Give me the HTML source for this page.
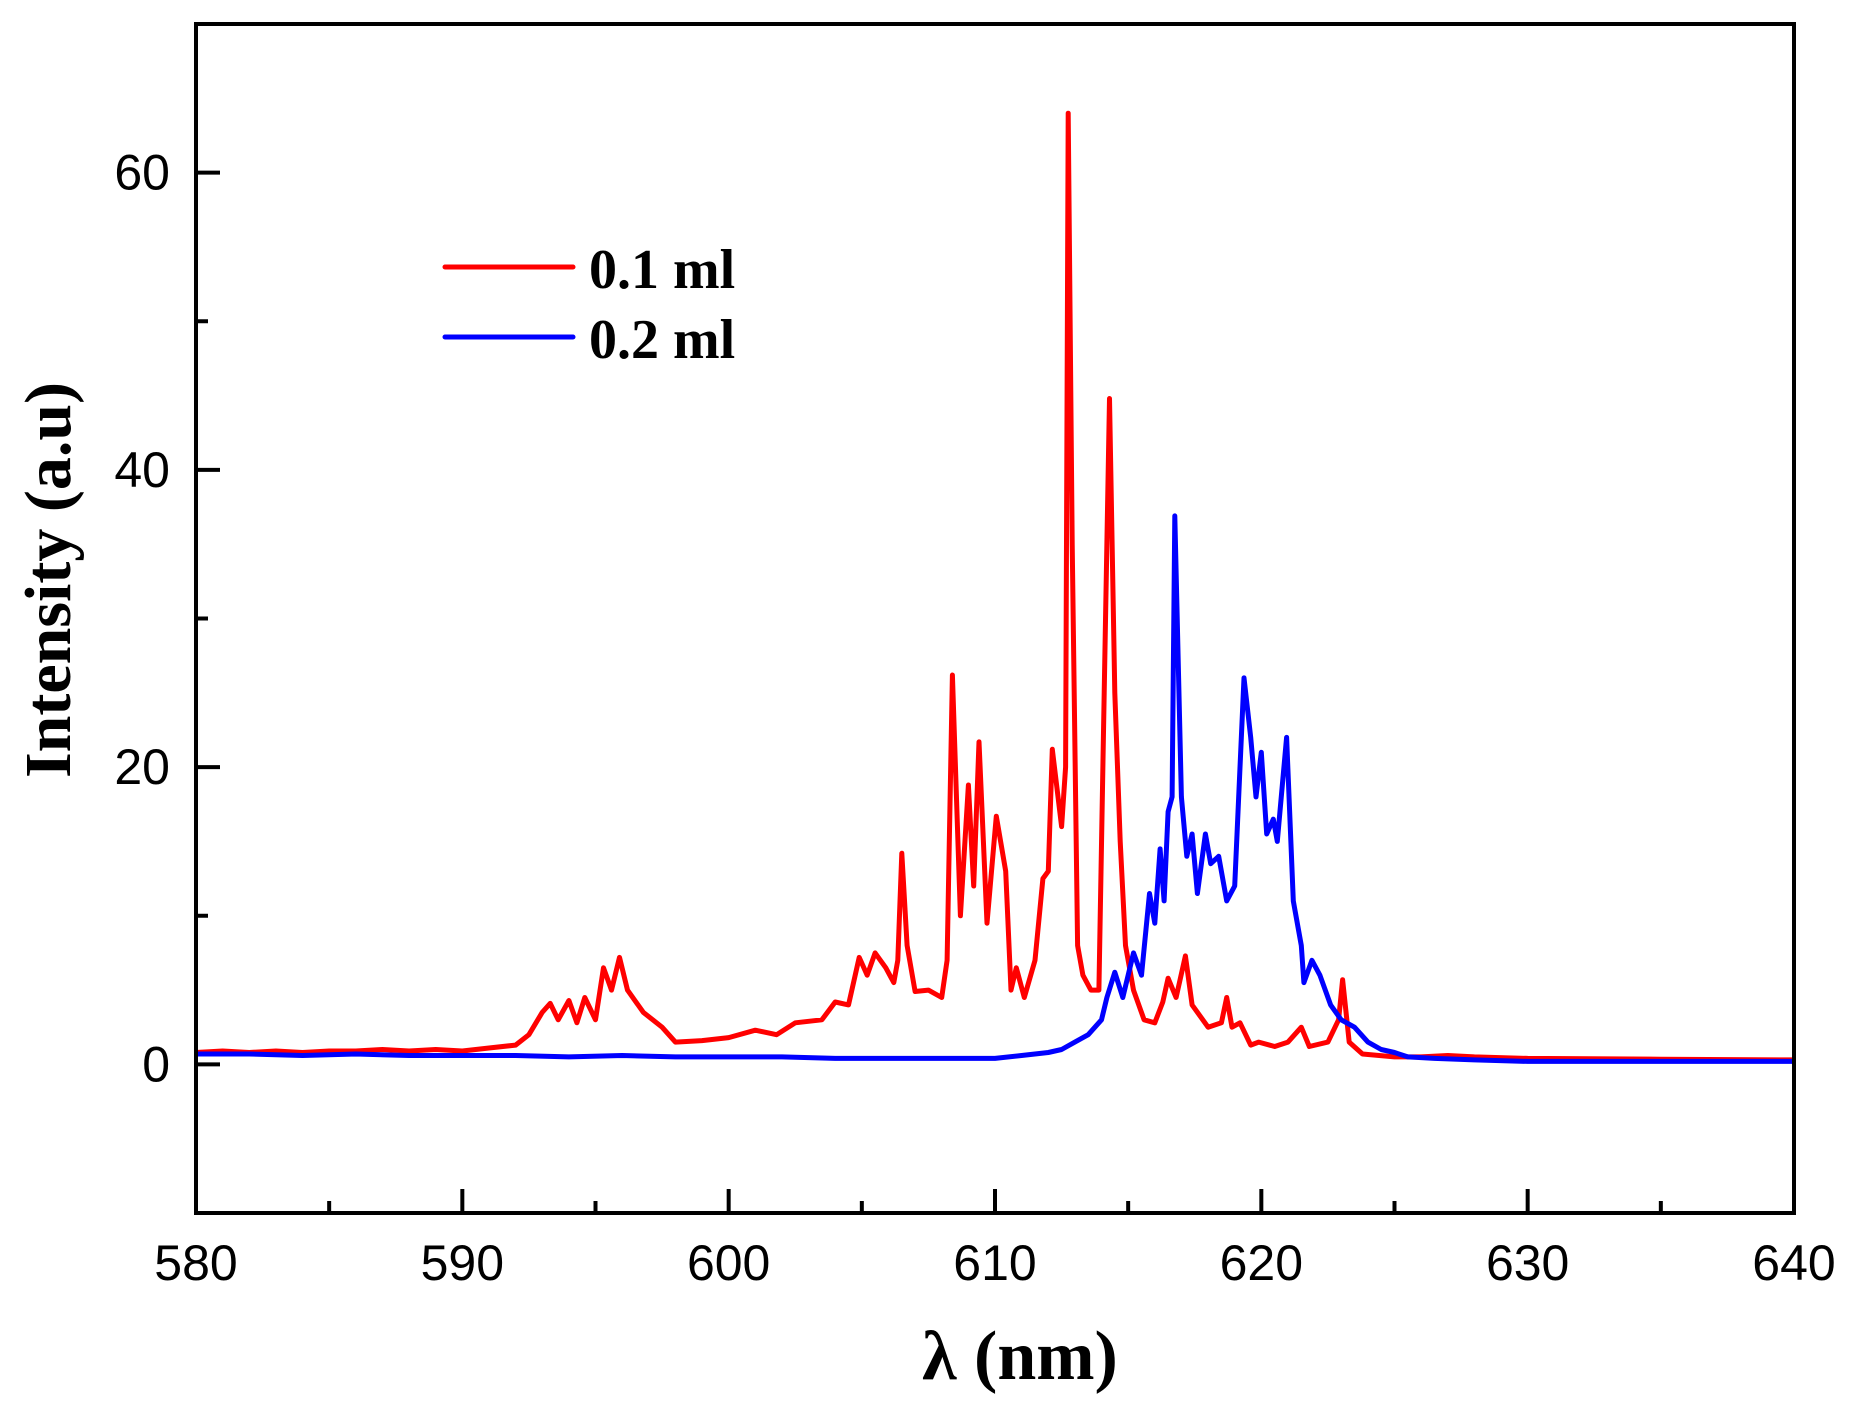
<!DOCTYPE html>
<html><head><meta charset="utf-8"><style>
html,body{margin:0;padding:0;background:#fff;}
svg{display:block;}
</style></head><body>
<svg id="chart" width="1856" height="1409" viewBox="0 0 1856 1409" xmlns="http://www.w3.org/2000/svg">
<rect width="1856" height="1409" fill="#fff"/>
<g id="series"></g>
<rect x="196" y="24" width="1598" height="1189" fill="none" stroke="#000" stroke-width="4"/>
<g id="ticks"></g>
<text x="1020" y="1379" text-anchor="middle" font-family="Liberation Serif, serif" font-weight="bold" font-size="70">λ (nm)</text>
<text transform="translate(70,580) rotate(-90)" text-anchor="middle" font-family="Liberation Serif, serif" font-weight="bold" font-size="66">Intensity (a.u)</text>
<g>
<line x1="445" y1="267" x2="573" y2="267" stroke="#ff0000" stroke-width="5" stroke-linecap="round"/>
<text x="589" y="288" font-family="Liberation Serif, serif" font-weight="bold" font-size="56">0.1 ml</text>
<line x1="445" y1="337" x2="573" y2="337" stroke="#0000ff" stroke-width="5" stroke-linecap="round"/>
<text x="589" y="358" font-family="Liberation Serif, serif" font-weight="bold" font-size="56">0.2 ml</text>
</g>
</svg>
<script>
const xTicks = [580, 590, 600, 610, 620, 630, 640];
const yTicks = [0, 20, 40, 60];
const redX = [580,581,582,583,584,585,586,587,588,589,590,591,592,592.5,593,593.3,593.6,594,594.3,594.6,595,595.3,595.6,595.9,596.2,596.8,597.5,598,599,600,601,601.8,602.5,603.5,604,604.5,604.9,605.2,605.5,605.9,606.2,606.35,606.5,606.7,607,607.5,608,608.2,608.4,608.7,609,609.2,609.4,609.7,610.05,610.4,610.6,610.8,611.1,611.5,611.8,612,612.15,612.5,612.65,612.75,612.9,613.1,613.3,613.6,613.9,614.1,614.3,614.5,614.7,614.9,615.2,615.6,616,616.3,616.5,616.8,617.15,617.4,618,618.5,618.7,618.9,619.2,619.6,619.9,620.5,621,621.5,621.8,622.5,622.9,623.05,623.3,623.8,625,626,627,628,630,635,640];
const redY = [0.8,0.9,0.8,0.9,0.8,0.9,0.9,1.0,0.9,1.0,0.9,1.1,1.3,2.0,3.5,4.1,3.0,4.3,2.8,4.5,3.0,6.5,5.0,7.2,5.0,3.5,2.5,1.5,1.6,1.8,2.3,2.0,2.8,3.0,4.2,4.0,7.2,6.0,7.5,6.5,5.5,7.0,14.2,8.0,4.9,5.0,4.5,7.0,26.2,10.0,18.8,12.0,21.7,9.5,16.7,13.0,5.0,6.5,4.5,7.0,12.5,13.0,21.2,16.0,20.0,64.0,35.0,8.0,6.0,5.0,5.0,25.0,44.8,25.0,15.0,8.0,5.0,3.0,2.8,4.2,5.8,4.5,7.3,4.0,2.5,2.8,4.5,2.5,2.8,1.3,1.5,1.2,1.5,2.5,1.2,1.5,3.0,5.7,1.5,0.7,0.5,0.5,0.6,0.5,0.4,0.35,0.3];
const blueX = [580,582,584,586,588,590,592,594,596,598,600,602,604,606,608,609,610,611,612,612.5,613,613.5,614,614.2,614.5,614.8,615.2,615.5,615.8,616,616.2,616.35,616.5,616.65,616.75,617,617.2,617.4,617.6,617.9,618.1,618.4,618.7,619,619.35,619.6,619.8,620,620.2,620.45,620.6,620.8,620.95,621.2,621.5,621.6,621.9,622.2,622.6,623,623.5,624,624.5,625,625.5,626.5,628,630,635,640];
const blueY = [0.7,0.7,0.6,0.7,0.6,0.6,0.6,0.5,0.6,0.5,0.5,0.5,0.4,0.4,0.4,0.4,0.4,0.6,0.8,1.0,1.5,2.0,3.0,4.5,6.2,4.5,7.5,6.0,11.5,9.5,14.5,11.0,17.0,18.0,36.9,18.0,14.0,15.5,11.5,15.5,13.5,14.0,11.0,12.0,26.0,22.0,18.0,21.0,15.5,16.5,15.0,19.0,22.0,11.0,8.0,5.5,7.0,6.0,4.0,3.0,2.5,1.5,1.0,0.8,0.5,0.4,0.3,0.2,0.2,0.2];
const NS = 'http://www.w3.org/2000/svg';
const L = 196, R = 1794, T = 24, B = 1213;
const X0 = 580, X1 = 640, Y0 = -10, Y1 = 70;
function sx(v){ return L + (v - X0) / (X1 - X0) * (R - L); }
function sy(v){ return B - (v - Y0) / (Y1 - Y0) * (B - T); }
const ticks = document.getElementById('ticks');
function mk(tag, attrs){ const e = document.createElementNS(NS, tag); for (const k in attrs) e.setAttribute(k, attrs[k]); return e; }
for (let v = X0; v <= X1; v += 5) {
  const major = xTicks.includes(v);
  const t = mk('line', {x1: sx(v), x2: sx(v), y1: B, y2: B - (major ? 24 : 12), stroke: '#000', 'stroke-width': 4});
  
  
  ticks.appendChild(t);
}
xTicks.forEach(v => {
  const t = mk('text', {x: sx(v), y: 1280, 'text-anchor': 'middle', 'font-family': 'Liberation Sans, sans-serif', 'font-size': 50});
  t.textContent = v;
  
  
  ticks.appendChild(t);
});
for (let v = 0; v <= 60; v += 10) {
  const major = yTicks.includes(v);
  const t = mk('line', {x1: L, x2: L + (major ? 24 : 12), y1: sy(v), y2: sy(v), stroke: '#000', 'stroke-width': 4});
  
  
  ticks.appendChild(t);
}
yTicks.forEach(v => {
  const t = mk('text', {x: 170, y: sy(v) + 17, 'text-anchor': 'end', 'font-family': 'Liberation Sans, sans-serif', 'font-size': 50});
  t.textContent = v;
  
  
  ticks.appendChild(t);
});
const series = document.getElementById('series');
function line(xs, ys, color, name){
  const d = xs.map((x, i) => (i ? 'L' : 'M') + sx(x).toFixed(1) + ',' + sy(ys[i]).toFixed(1)).join('');
  const p = mk('path', {d: d, fill: 'none', stroke: color, 'stroke-width': 5, 'stroke-linejoin': 'round'});
  
  
  series.appendChild(p);
}
line(redX, redY, '#ff0000', 'series-0-1-ml');
line(blueX, blueY, '#0000ff', 'series-0-2-ml');
</script>
</body></html>
